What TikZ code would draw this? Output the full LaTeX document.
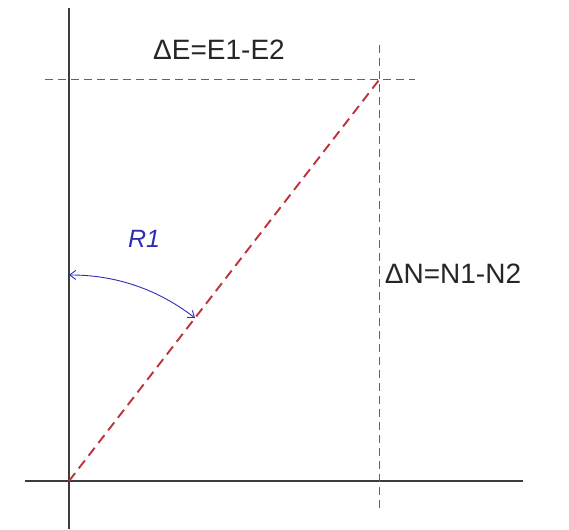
\documentclass[tikz,border=0pt]{standalone}
\usepackage{fontspec}
\setmainfont{Liberation Sans}
\usetikzlibrary{arrows.meta,calc}
\definecolor{axisgray}{RGB}{60,60,60}
\definecolor{linered}{RGB}{190,50,60}
\definecolor{angleblue}{RGB}{45,45,185}
\tikzset{
  axisline/.style={draw=axisgray, line width=1.8pt},
  helpline/.style={draw=axisgray!80, line width=1pt, dash pattern=on 8pt off 5pt},
  baseline/.style={draw=linered, line width=1.9pt, dash pattern=on 10pt off 6pt},
  bigtext/.style={font=\fontsize{28}{32}\selectfont, text=black!85, inner sep=0pt}
}
\begin{document}
\begin{tikzpicture}[x=1pt,y=1pt]
			\useasboundingbox (0,0) rectangle (569,529);
			% axes
			\draw[axisline] (69,0) -- (69,521);
			\draw[axisline] (25,48) -- (523,48);
			\coordinate (O) at (69,48);
			\coordinate (P) at (379,449);
			% projection lines
			\draw[helpline] (379,484) -- (379,21);
			\draw[helpline] (45,449) -- (415,449);
			\draw[baseline] (O) -- (P);
			\node[bigtext] (dE) at (219,479) {ΔE=E1-E2};
			\node[bigtext] (dN) at (453,255) {ΔN=N1-N2};
			% angle R1
			\coordinate (A) at ($(O)+(90:206)$);
			\coordinate (B) at ($(O)+(52.3:206)$);
			\draw[angleblue, line width=0.9pt, {Straight Barb[length=6pt,width=9pt]}-{Straight Barb[length=6pt,width=9pt]}] (A) to [bend left=19, looseness=0.9] (B);
			\node[text=angleblue, font=\fontsize{25}{28}\selectfont\itshape] (R) at (144,290) {R1};
		\end{tikzpicture}
\end{document}
